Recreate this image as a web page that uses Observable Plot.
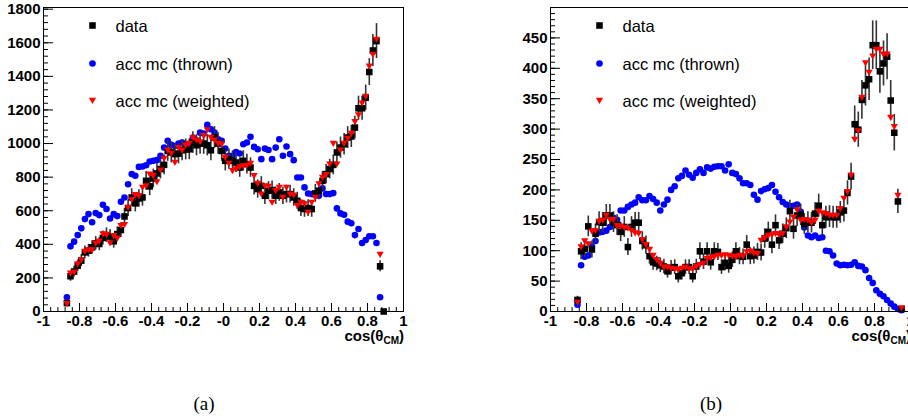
<!DOCTYPE html>
<html><head><meta charset="utf-8">
<script src="https://cdn.jsdelivr.net/npm/d3@7"></script>
<script src="https://cdn.jsdelivr.net/npm/@observablehq/plot@0.6"></script>
<style>
html,body{margin:0;padding:0;background:#fff;overflow:hidden;width:908px;height:419px}
#wrap{position:relative;width:908px;height:419px;overflow:hidden;background:#fff}
.panel{position:absolute;top:0;height:345px}
.panel svg{max-width:none !important;display:block}
.cap{position:absolute;font-family:"Liberation Serif","DejaVu Serif",serif;font-size:19px;line-height:22px;top:393px;transform:translateX(-50%);color:#000}
</style></head><body><div id="wrap"></div>
<script>
// ---- tick labels ----
const xTickValues = [-1,-0.8,-0.6,-0.4,-0.2,0,0.2,0.4,0.6,0.8,1];
const xTickLabels = ["-1","-0.8","-0.6","-0.4","-0.2","-0","0.2","0.4","0.6","0.8","1"];
const leftYTicks = [0,200,400,600,800,1000,1200,1400,1600,1800];
const rightYTicks = [0,50,100,150,200,250,300,350,400,450];
const legendLabels = ["data","acc mc (thrown)","acc mc (weighted)"];
const axisTitle = ["cos(\u03b8","CM",")"];
const captions = ["(a)","(b)"];

// ---- panel (a): bins of width 0.02, first centre -0.87 ----
const leftStart = -0.87;
const leftData = [50,210,238,273,303,352,362,382,406,402,
 438,455,446,418,461,485,566,616,679,644,
 673,679,778,745,792,822,848,873,956,947,
 937,940,960,965,966,1006,990,1000,1000,990,
 960,1036,1000,956,897,907,897,887,857,897,
 877,857,748,729,748,689,719,723,689,709,
 689,699,699,679,659,616,610,616,610,703,
 719,778,818,848,873,947,976,996,1036,1042,
 1095,1210,1210,1273,1426,1554,1610,269,0];
const leftErr = [15,30,32,34,36,38,38,39,40,40,
 42,43,42,41,43,44,48,50,52,51,
 52,52,56,55,56,58,58,59,62,62,
 61,61,62,62,62,64,63,64,64,63,
 62,65,64,62,60,60,60,59,58,60,
 59,58,55,54,55,52,54,54,52,53,
 52,53,53,52,51,50,49,50,49,53,
 54,56,57,58,59,62,63,64,65,66,
 68,72,72,75,80,95,104,33,0];
const leftThrown = [85,388,416,455,495,550,580,531,586,574,
 636,610,554,580,568,653,679,758,818,808,
 861,863,871,893,897,901,927,976,1016,992,
 985,1000,1006,990,976,1036,1020,1065,1060,1111,
 1085,1065,1026,1016,970,927,927,950,941,996,
 1006,1040,980,966,907,970,962,907,976,1026,
 927,982,937,901,798,798,739,703,699,693,
 689,733,699,699,705,614,584,576,535,525,
 455,491,408,426,448,448,408,85];
const leftWeighted = [46,228,234,283,307,358,366,366,406,418,
 461,457,408,451,436,511,517,620,665,695,
 689,739,748,818,808,772,842,911,960,941,
 887,975,960,990,1000,1035,1020,1010,1046,1081,
 1036,1020,1000,996,917,881,838,848,861,867,
 870,881,808,762,699,748,745,650,719,739,
 679,739,699,693,630,650,640,590,650,679,
 760,798,814,877,1000,877,960,1000,1030,1060,
 1130,1170,1240,1280,1460,1530,1620,339];

// ---- panel (b): bins of width 0.02, first centre -0.85 ----
const rightStart = -0.85;
const rightData = [19,99,103,140,102,128,147,146,158,158,
 147,142,131,139,106,139,146,146,116,109,
 91,81,79,76,74,66,72,73,58,63,
 73,73,58,74,99,82,99,81,99,98,
 73,80,75,85,99,91,90,110,91,92,
 98,97,120,131,110,142,117,128,137,165,
 136,158,159,144,147,146,161,174,142,155,
 156,155,155,163,166,195,222,308,299,348,
 372,382,438,438,395,408,419,347,294,181,4];
const rightErr = [6,14,14,17,14,16,17,17,18,18,
 17,17,16,17,14,17,17,17,15,15,
 13,13,12,12,12,11,12,12,11,11,
 12,12,11,12,14,13,14,13,14,14,
 12,13,12,13,14,14,13,15,14,14,
 14,14,16,16,15,17,15,16,17,18,
 17,18,18,17,17,17,18,19,17,18,
 18,18,18,18,19,20,22,30,29,32,
 34,35,40,40,36,37,38,33,30,20,3];
const rightThrown = [11,76,90,92,107,116,130,131,133,139,
 154,151,166,166,172,176,179,188,183,183,
 190,185,179,166,176,184,200,206,219,223,
 232,225,220,228,234,228,237,235,238,239,
 239,232,242,228,226,219,211,211,208,192,
 184,198,201,203,208,197,188,180,176,173,
 174,176,164,138,125,122,125,121,122,100,
 99,92,79,76,77,76,77,81,75,74,
 68,55,47,35,29,25,19,13,8,4,2];
const rightWeighted = [15,106,116,111,132,133,148,150,158,151,
 151,141,140,138,137,133,129,128,118,110,
 102,92,85,79,73,73,71,70,69,71,
 73,70,70,74,77,79,87,88,90,92,
 92,93,92,91,90,92,91,98,99,96,
 95,117,121,125,126,128,126,128,139,147,
 155,167,150,151,150,146,150,165,162,161,
 158,158,158,169,186,197,224,283,297,352,
 409,393,420,431,431,423,423,319,304,191,6];

// downward-pointing triangle marker
const triDown = {draw(ctx, size) {
  const r = Math.sqrt(size / Math.PI);
  ctx.moveTo(-r, -r * 0.75);
  ctx.lineTo(r, -r * 0.75);
  ctx.lineTo(0, r * 0.95);
  ctx.closePath();
}};

const FONT = "'Liberation Sans', Arial, Helvetica, sans-serif";
const minorX = d3.range(-1, 1.0001, 0.04).map(v => +v.toFixed(2));

function makePanel(o) {
  const n = Math.max(o.data.length, o.thrown.length, o.weighted.length);
  const rows = d3.range(n).map(i => ({
    x: +(o.start + 0.02 * i).toFixed(2),
    data: o.data[i], err: o.err[i], thrown: o.thrown[i], weighted: o.weighted[i]
  }));
  const dRows = rows.filter(r => r.data != null);
  const bRows = rows.filter(r => r.thrown != null);
  const rRows = rows.filter(r => r.weighted != null);
  const mr = o.width - o.ml - 360;
  const fmt = d => xTickLabels[xTickValues.indexOf(d)];
  const lgDy = [18, 56, 93];
  const svg = Plot.plot({
    width: o.width, height: 345,
    marginLeft: o.ml, marginRight: mr, marginTop: 7, marginBottom: 34,
    x: {domain: [-1, 1]},
    y: {domain: o.yDomain},
    style: {fontFamily: FONT, background: "transparent", overflow: "visible", color: "black", maxWidth: "none"},
    marks: [
      Plot.axisX({ticks: minorX, tickSize: -4, fill: "none", label: null}),
      Plot.axisX({ticks: xTickValues, tickSize: -8, fill: "none", label: null}),
      Plot.axisX({ticks: xTickValues, tickSize: 0, tickPadding: 4, tickFormat: fmt, fontSize: 15, fontWeight: "bold", fill: "black", label: null}),
      Plot.axisY({ticks: o.yMinor, tickSize: -5, fill: "none", label: null}),
      Plot.axisY({ticks: o.yTicks, tickSize: -10, fill: "none", label: null}),
      Plot.axisY({ticks: o.yTicks, tickSize: 0, tickPadding: 3, tickFormat: d => String(d), fontSize: 15, fontWeight: "bold", fill: "black", label: null}),
      Plot.dot(bRows, {x: "x", y: "thrown", r: 3.3, symbol: "circle", fill: "#0000ff"}),
      Plot.ruleX(dRows, {x: "x", y1: r => r.data - r.err, y2: r => r.data + r.err, stroke: "#333", strokeWidth: 1.6}),
      Plot.dot(dRows, {x: "x", y: "data", r: 3.7, symbol: "square", fill: "black"}),
      Plot.dot(rRows, {x: "x", y: "weighted", r: 3.6, symbol: triDown, fill: "#ff0000"}),
      Plot.frame({stroke: "black", strokeWidth: 1}),
      // legend
      Plot.dot([legendLabels[0]], {frameAnchor: "top-left", dx: 49, dy: lgDy[0], r: 3.7, symbol: "square", fill: "black"}),
      Plot.dot([legendLabels[1]], {frameAnchor: "top-left", dx: 49, dy: lgDy[1], r: 3.3, symbol: "circle", fill: "#0000ff"}),
      Plot.dot([legendLabels[2]], {frameAnchor: "top-left", dx: 49, dy: lgDy[2], r: 3.6, symbol: triDown, fill: "#ff0000"}),
      ...legendLabels.map((t, i) => Plot.text([t], {text: d => d, frameAnchor: "top-left", dx: 72, dy: lgDy[i] + 1, textAnchor: "start", lineAnchor: "middle", fontSize: 16.5, fill: "black"}))
    ]
  });
  svg.style.maxWidth = "none";
  const s = d3.select(svg);
  const t = s.append("text")
    .attr("x", o.width - mr + 1).attr("y", 341)
    .attr("text-anchor", "end")
    .attr("font-family", FONT).attr("font-size", 15).attr("font-weight", "bold").attr("fill", "black");
  t.append("tspan").text(axisTitle[0]);
  t.append("tspan").attr("font-size", 10).attr("dy", 3).text(axisTitle[1]);
  t.append("tspan").attr("dy", -3).text(axisTitle[2]);
  const div = document.createElement("div");
  div.className = "panel";
  div.style.left = o.left + "px";
  div.style.width = o.width + "px";
  div.appendChild(svg);
  return div;
}

const wrap = document.getElementById("wrap");
wrap.appendChild(makePanel({
  left: 0, width: 454, ml: 43, start: leftStart,
  data: leftData, err: leftErr, thrown: leftThrown, weighted: leftWeighted,
  yDomain: [0, 1810], yTicks: leftYTicks, yMinor: d3.range(0, 1801, 40)
}));
wrap.appendChild(makePanel({
  left: 454, width: 470, ml: 96, start: rightStart,
  data: rightData, err: rightErr, thrown: rightThrown, weighted: rightWeighted,
  yDomain: [0, 500], yTicks: rightYTicks, yMinor: d3.range(0, 501, 10)
}));
[[204, captions[0]], [711, captions[1]]].forEach(([cx, txt]) => {
  const c = document.createElement("div");
  c.className = "cap";
  c.style.left = cx + "px";
  c.textContent = txt;
  wrap.appendChild(c);
});
</script></body></html>
